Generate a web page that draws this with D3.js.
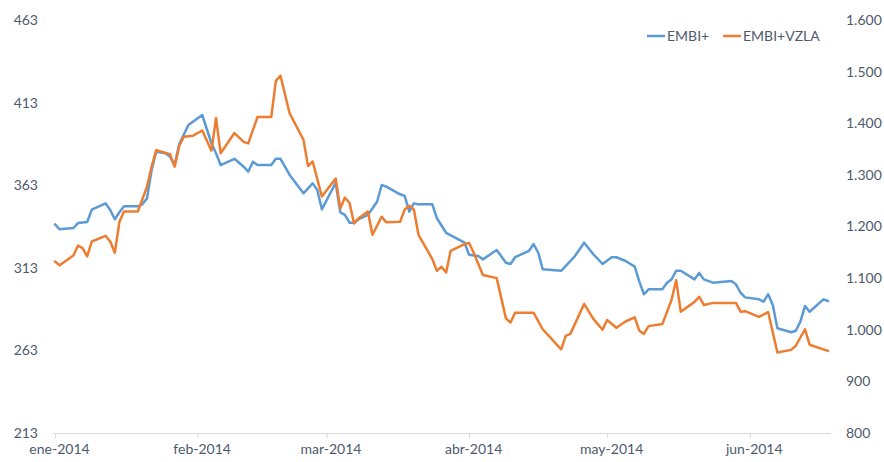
<!DOCTYPE html>
<html>
<head>
<meta charset="utf-8">
<script src="https://cdn.jsdelivr.net/npm/d3@7"></script>
<style>
  html, body { margin: 0; padding: 0; background: #fff; }
  svg { display: block; }
  text { font-family: Lato, "Open Sans", sans-serif; }
</style>
</head>
<body>
<svg id="chart" width="884" height="462"></svg>
<script>
// ---- DATA ----
const seriesNames = ["EMBI+", "EMBI+VZLA"];
const monthLabels = ["ene-2014", "feb-2014", "mar-2014", "abr-2014", "may-2014", "jun-2014"];
const monthTicks = ["2014-01-01", "2014-02-01", "2014-03-01", "2014-04-01", "2014-05-01", "2014-06-01"];
const leftTicks = [213, 263, 313, 363, 413, 463];
const rightTicks = [800, 900, 1000, 1100, 1200, 1300, 1400, 1500, 1600];

const embiDates = ["2014-01-01","2014-01-02","2014-01-05","2014-01-06","2014-01-08","2014-01-09","2014-01-12","2014-01-13","2014-01-14","2014-01-15",
  "2014-01-16","2014-01-19","2014-01-20","2014-01-21","2014-01-22","2014-01-23","2014-01-25","2014-01-26","2014-01-27","2014-01-28",
  "2014-01-30","2014-02-02","2014-02-04","2014-02-05","2014-02-06","2014-02-09","2014-02-11","2014-02-12","2014-02-13","2014-02-14",
  "2014-02-17","2014-02-18","2014-02-19","2014-02-21","2014-02-24","2014-02-26","2014-02-27","2014-02-28","2014-03-03","2014-03-04",
  "2014-03-05","2014-03-06","2014-03-07","2014-03-08","2014-03-10","2014-03-12","2014-03-13","2014-03-14","2014-03-17","2014-03-18",
  "2014-03-19","2014-03-20","2014-03-21","2014-03-24","2014-03-25","2014-03-27","2014-03-31","2014-04-01","2014-04-03","2014-04-04",
  "2014-04-07","2014-04-09","2014-04-10","2014-04-11","2014-04-14","2014-04-15","2014-04-16","2014-04-17","2014-04-21","2014-04-24",
  "2014-04-26","2014-04-28","2014-04-30","2014-05-02","2014-05-03","2014-05-05","2014-05-07","2014-05-08","2014-05-09","2014-05-10",
  "2014-05-13","2014-05-14","2014-05-15","2014-05-16","2014-05-17","2014-05-20","2014-05-21","2014-05-22","2014-05-24","2014-05-28",
  "2014-05-29","2014-05-30","2014-05-31","2014-06-03","2014-06-04","2014-06-05","2014-06-06","2014-06-07","2014-06-10","2014-06-11",
  "2014-06-12","2014-06-13","2014-06-14","2014-06-17","2014-06-18"];
const embiValues = [339.3,336.3,337.1,340.1,340.7,348.2,352.0,348.0,342.4,346.6,
  350.2,350.2,351.4,355.1,372.2,383.3,382.3,380.3,375.2,387.9,
  399.4,405.5,388.4,382.3,375.2,379.0,374.2,371.2,377.2,375.2,
  375.2,379.0,379.0,369.2,358.1,364.1,360.1,348.4,364.5,346.6,
  345.0,340.3,340.3,342.4,345.0,353.0,363.1,362.1,357.5,356.5,
  347.0,352.0,351.4,351.4,343.0,334.2,328.2,320.9,320.1,318.1,
  323.8,316.1,315.3,319.4,323.2,327.4,322.4,312.1,311.2,320.1,
  328.2,321.2,315.3,319.4,319.4,317.1,313.7,304.6,297.0,300.0,
  300.0,304.0,306.0,311.2,311.2,306.0,309.9,306.0,304.0,305.0,
  303.0,297.9,295.1,293.9,292.5,297.0,290.5,276.4,274.0,274.9,
  280.4,289.9,286.4,293.9,292.9];

const vzlaDates = ["2014-01-01","2014-01-02","2014-01-05","2014-01-06","2014-01-07","2014-01-08","2014-01-09","2014-01-12","2014-01-13","2014-01-14",
  "2014-01-15","2014-01-16","2014-01-19","2014-01-21","2014-01-22","2014-01-23","2014-01-26","2014-01-27","2014-01-28","2014-01-29",
  "2014-01-31","2014-02-02","2014-02-04","2014-02-05","2014-02-06","2014-02-09","2014-02-11","2014-02-12","2014-02-14","2014-02-17",
  "2014-02-18","2014-02-19","2014-02-21","2014-02-24","2014-02-25","2014-02-26","2014-02-28","2014-03-03","2014-03-04","2014-03-05",
  "2014-03-06","2014-03-07","2014-03-08","2014-03-10","2014-03-11","2014-03-13","2014-03-14","2014-03-17","2014-03-18","2014-03-19",
  "2014-03-20","2014-03-21","2014-03-24","2014-03-25","2014-03-26","2014-03-27","2014-03-28","2014-03-31","2014-04-01","2014-04-02",
  "2014-04-04","2014-04-07","2014-04-09","2014-04-10","2014-04-11","2014-04-15","2014-04-17","2014-04-21","2014-04-22","2014-04-23",
  "2014-04-26","2014-04-28","2014-04-30","2014-05-01","2014-05-03","2014-05-05","2014-05-07","2014-05-08","2014-05-09","2014-05-10",
  "2014-05-13","2014-05-15","2014-05-16","2014-05-17","2014-05-20","2014-05-21","2014-05-22","2014-05-24","2014-05-29","2014-05-30",
  "2014-05-31","2014-06-03","2014-06-05","2014-06-07","2014-06-10","2014-06-11","2014-06-13","2014-06-14","2014-06-18"];
const vzlaValues = [1132,1125,1144,1163,1158,1142,1171,1182,1171,1149,
  1209,1229,1229,1277,1316,1348,1340,1316,1356,1374,
  1376,1386,1347,1410,1342,1381,1364,1361,1412,1412,
  1482,1492,1419,1368,1317,1326,1258,1293,1235,1256,
  1246,1206,1216,1229,1184,1219,1208,1209,1233,1240,
  1233,1184,1137,1114,1122,1111,1153,1166,1168,1149,
  1106,1100,1022,1014,1033,1033,1001,962,988,992,
  1050,1021,1000,1019,1004,1016,1024,998,992,1007,
  1011,1058,1096,1035,1054,1064,1048,1052,1052,1035,
  1036,1025,1034,956,961,969,1001,971,959];

const colors = ["#5B9BD5", "#ED7D31"];

// ---- CHART ----
const parse = d3.timeParse("%Y-%m-%d");
const svg = d3.select("#chart");
const plotTop = 20, plotBottom = 433;

const x = d3.scaleTime()
  .domain([parse("2014-01-01"), parse("2014-06-18")])
  .range([55, 828]);
const yL = d3.scaleLinear().domain([213, 463]).range([plotBottom, plotTop]);
const yR = d3.scaleLinear().domain([800, 1600]).range([plotBottom, plotTop]);

const textColor = "#4E5A6C";

// x axis line
svg.append("line")
  .attr("x1", 53).attr("x2", 831)
  .attr("y1", plotBottom + 0.5).attr("y2", plotBottom + 0.5)
  .attr("stroke", "#D9D9D9").attr("stroke-width", 1);

const xAxis = d3.axisBottom(x)
  .tickValues(monthTicks.map(parse))
  .tickFormat((d, i) => monthLabels[i])
  .tickSize(5).tickPadding(6);
const gx = svg.append("g").attr("transform", `translate(0,${plotBottom + 0.5})`).call(xAxis);
gx.select(".domain").remove();
gx.selectAll(".tick line").attr("stroke", "#D9D9D9");
gx.selectAll(".tick text")
  .attr("fill", textColor).attr("font-size", "14px")
  .attr("font-family", "Lato, 'Open Sans', sans-serif")
  .attr("dx", 4);

// left axis
const gl = svg.append("g").attr("transform", "translate(38,0)")
  .call(d3.axisLeft(yL).tickValues(leftTicks).tickFormat(d3.format("d")).tickSize(0).tickPadding(0));
gl.select(".domain").remove();
gl.selectAll(".tick text").attr("fill", textColor).attr("font-size", "14px")
  .attr("font-family", "Lato, 'Open Sans', sans-serif");

// right axis
const fmtR = d => d >= 1000 ? d3.format(",")(d).replace(",", ".") : String(d);
const gr = svg.append("g").attr("transform", "translate(846,0)")
  .call(d3.axisRight(yR).tickValues(rightTicks).tickFormat(fmtR).tickSize(0).tickPadding(0));
gr.select(".domain").remove();
gr.selectAll(".tick text").attr("fill", textColor).attr("font-size", "14px")
  .attr("font-family", "Lato, 'Open Sans', sans-serif");

// lines
const embi = embiDates.map((d, i) => ({ date: parse(d), value: embiValues[i] }));
const vzla = vzlaDates.map((d, i) => ({ date: parse(d), value: vzlaValues[i] }));

svg.append("path").datum(embi)
  .attr("fill", "none").attr("stroke", colors[0]).attr("stroke-width", 2.5)
  .attr("stroke-linejoin", "round").attr("stroke-linecap", "round")
  .attr("d", d3.line().x(d => x(d.date)).y(d => yL(d.value)));

svg.append("path").datum(vzla)
  .attr("fill", "none").attr("stroke", colors[1]).attr("stroke-width", 2.5)
  .attr("stroke-linejoin", "round").attr("stroke-linecap", "round")
  .attr("d", d3.line().x(d => x(d.date)).y(d => yR(d.value)));

// legend
const legendItems = [
  { name: seriesNames[0], color: colors[0], x: 647 },
  { name: seriesNames[1], color: colors[1], x: 723 }
];
const lg = svg.append("g");
legendItems.forEach(it => {
  lg.append("line").attr("x1", it.x).attr("x2", it.x + 18)
    .attr("y1", 36).attr("y2", 36)
    .attr("stroke", it.color).attr("stroke-width", 2.5);
  lg.append("text").attr("x", it.x + 20).attr("y", 36).attr("dy", "0.35em")
    .attr("fill", textColor).attr("font-size", "14px")
    .text(it.name);
});
</script>
</body>
</html>
